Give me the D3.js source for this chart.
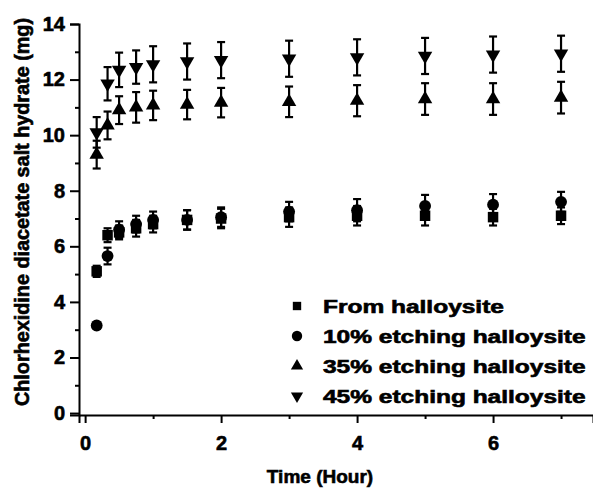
<!DOCTYPE html>
<html>
<head>
<meta charset="utf-8">
<script src="https://cdn.jsdelivr.net/npm/d3@7"></script>
<style>
  body { margin: 0; background: #fff; }
  svg { display: block; }
  text { font-family: "Liberation Sans", Arial, sans-serif; font-weight: bold; fill: #000; stroke: #000; stroke-width: 0.6px; }
</style>
</head>
<body>
<svg id="chart" width="593" height="493"></svg>
<script>
// release data
var times = [0.17, 0.33, 0.5, 0.75, 1, 1.5, 2, 3, 4, 5, 6, 7];

var fromHalloysite = [5.1, 6.4, 6.5, 6.65, 6.8, 6.95, 7.0, 7.05, 7.1, 7.1, 7.05, 7.1];
var fromErr        = [0.2, 0.25, 0.25, 0.3, 0.3, 0.35, 0.35, 0.35, 0.35, 0.35, 0.3, 0.3];

var etch10    = [3.15, 5.65, 6.6, 6.8, 6.95, 6.95, 7.05, 7.25, 7.3, 7.45, 7.5, 7.6];
var etch10Err = [0.1, 0.3, 0.3, 0.3, 0.3, 0.35, 0.35, 0.35, 0.4, 0.4, 0.38, 0.36];

var etch35    = [9.3, 10.35, 10.9, 11.0, 11.07, 11.1, 11.17, 11.2, 11.24, 11.3, 11.3, 11.35];
var etch35Err = [0.5, 0.5, 0.5, 0.55, 0.53, 0.53, 0.53, 0.55, 0.56, 0.57, 0.57, 0.57];

var etch45    = [10.1, 11.85, 12.35, 12.45, 12.55, 12.65, 12.7, 12.75, 12.8, 12.85, 12.9, 12.93];
var etch45Err = [0.55, 0.6, 0.62, 0.6, 0.65, 0.65, 0.65, 0.65, 0.65, 0.65, 0.65, 0.65];

var seriesNames = ['From halloysite', '10% etching halloysite', '35% etching halloysite', '45% etching halloysite'];
var xTicks = [0, 2, 4, 6];
var yTicks = [0, 2, 4, 6, 8, 10, 12, 14];

var series = [
  { name: seriesNames[0], values: fromHalloysite, err: fromErr, symbol: d3.symbolSquare, size: 110, rot: 0, legSize: 70 },
  { name: seriesNames[1], values: etch10, err: etch10Err, symbol: d3.symbolCircle, size: 110, rot: 0, legSize: 85 },
  { name: seriesNames[2], values: etch35, err: etch35Err, symbol: d3.symbolTriangle, size: 90, rot: 0, legSize: 65 },
  { name: seriesNames[3], values: etch45, err: etch45Err, symbol: d3.symbolTriangle, size: 90, rot: 180, legSize: 65 }
];

var svg = d3.select('#chart');

var x = d3.scaleLinear().domain([-0.09, 7.47]).range([79, 593]);
var y = d3.scaleLinear().domain([-0.07, 14]).range([415, 24]);

// axes (left + bottom only)
var xAxis = svg.append('g').attr('transform', 'translate(0,' + y.range()[0] + ')')
  .call(d3.axisBottom(x).tickValues(xTicks).tickSize(8).tickPadding(13).tickFormat(d3.format('d')));
var xMinor = svg.append('g').attr('transform', 'translate(0,' + y.range()[0] + ')')
  .call(d3.axisBottom(x).tickValues([1, 3, 5, 7]).tickSize(4).tickFormat(''));

var yAxis = svg.append('g').attr('transform', 'translate(' + x.range()[0] + ',0)')
  .call(d3.axisLeft(y).tickValues(yTicks).tickSize(9).tickPadding(5).tickFormat(d3.format('d')));
var yMinor = svg.append('g').attr('transform', 'translate(' + x.range()[0] + ',0)')
  .call(d3.axisLeft(y).tickValues([1, 3, 5, 7, 9, 11, 13]).tickSize(4).tickFormat(''));

[xAxis, xMinor, yAxis, yMinor].forEach(function(g) {
  g.select('.domain').attr('stroke', '#000').attr('stroke-width', 2);
  g.selectAll('.tick line').attr('stroke', '#000').attr('stroke-width', 2);
  g.selectAll('.tick text').style('font-size', '20px').attr('fill', '#000');
});
xMinor.select('.domain').remove();
yMinor.select('.domain').remove();

// error bars and markers
var capW = 4;
series.forEach(function(s) {
  var g = svg.append('g');
  var pts = times.map(function(t, i) { return { t: t, v: s.values[i], e: s.err[i] }; });

  var eb = g.selectAll('.err').data(pts).enter().append('g').attr('class', 'err')
    .attr('stroke', '#000').attr('stroke-width', 2.2);
  eb.append('line')
    .attr('x1', function(d) { return x(d.t); }).attr('x2', function(d) { return x(d.t); })
    .attr('y1', function(d) { return y(d.v + d.e); }).attr('y2', function(d) { return y(d.v - d.e); });
  eb.append('line')
    .attr('x1', function(d) { return x(d.t) - capW; }).attr('x2', function(d) { return x(d.t) + capW; })
    .attr('y1', function(d) { return y(d.v + d.e); }).attr('y2', function(d) { return y(d.v + d.e); });
  eb.append('line')
    .attr('x1', function(d) { return x(d.t) - capW; }).attr('x2', function(d) { return x(d.t) + capW; })
    .attr('y1', function(d) { return y(d.v - d.e); }).attr('y2', function(d) { return y(d.v - d.e); });

  g.selectAll('.pt').data(pts).enter().append('path').attr('class', 'pt')
    .attr('d', d3.symbol().type(s.symbol).size(s.size))
    .attr('fill', '#000')
    .attr('transform', function(d) { return 'translate(' + x(d.t) + ',' + y(d.v) + ') rotate(' + s.rot + ')'; });
});

// legend
var legend = svg.append('g').attr('transform', 'translate(297,306)');
var rowH = 30;
series.forEach(function(s, i) {
  var row = legend.append('g').attr('transform', 'translate(0,' + (i * rowH) + ')');
  row.append('path')
    .attr('d', d3.symbol().type(s.symbol).size(s.legSize))
    .attr('fill', '#000')
    .attr('transform', 'rotate(' + s.rot + ')');
  var txt = row.append('text')
    .attr('x', 26).attr('y', 6.5)
    .style('font-size', '18px')
    .text(s.name);
  // the legend lettering in the figure is wider than normal
  var w = txt.node().getComputedTextLength();
  txt.attr('textLength', w * 1.36).attr('lengthAdjust', 'spacingAndGlyphs');
});

// axis titles
svg.append('text')
  .attr('x', 320).attr('y', 483)
  .attr('text-anchor', 'middle')
  .style('font-size', '19px')
  .text('Time (Hour)');

svg.append('text')
  .attr('transform', 'translate(29,212) rotate(-90)')
  .attr('text-anchor', 'middle')
  .style('font-size', '19.5px')
  .attr('textLength', 388).attr('lengthAdjust', 'spacingAndGlyphs')
  .text('Chlorhexidine diacetate salt hydrate (mg)');
</script>
</body>
</html>
